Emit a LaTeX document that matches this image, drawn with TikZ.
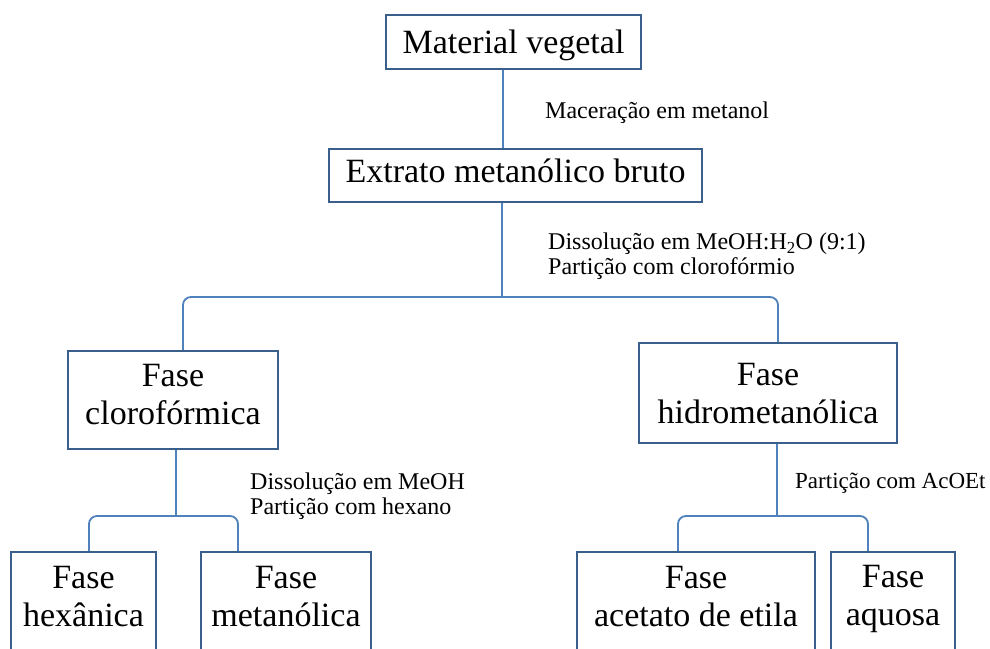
\documentclass[tikz,border=0pt]{standalone}
\usepackage{fontspec}
\setmainfont{Liberation Serif}
\usepackage{xcolor}
\usetikzlibrary{positioning}

\definecolor{bordaazul}{RGB}{58,95,140}
\definecolor{linhaazul}{RGB}{79,129,189}

\begin{document}
\begin{tikzpicture}[x=1pt, y=-1pt,
    caixa/.style={draw=bordaazul, line width=2.2pt, fill=white, inner sep=0pt,
        text height=23pt, text depth=7pt, font=\fontsize{34}{38}\selectfont},
    fase/.style={draw=bordaazul, line width=2.2pt, fill=white, inner sep=0pt,
        align=center, text depth=12pt, font=\fontsize{34}{38}\selectfont},
    liga/.style={draw=linhaazul, line width=1.8pt, rounded corners=8pt},
    etapa/.style={anchor=base west, inner sep=0pt, align=left,
        font=\fontsize{24}{24.5}\selectfont}]

    % 1. Área do desenho
    \clip (0,0) rectangle (990,648);
    \fill[white] (0,0) rectangle (990,648);

    % 2. Caixas
    \node[caixa, minimum width=255pt, minimum height=54pt, text depth=1pt] (mat) at (513.5,42) {Material vegetal};
    \node[caixa, minimum width=373pt, minimum height=53pt, text depth=10pt] (ext) at (515.5,175.5) {Extrato metanólico bruto};
    \node[fase, minimum width=210pt, minimum height=98pt] (clo) at (173,400) {Fase\\clorofórmica};
    \node[fase, minimum width=258pt, minimum height=100pt, text depth=0pt] (hid) at (768,393) {Fase\\hidrometanólica};
    \node[fase, minimum width=145pt, minimum height=100pt] (hex) at (83.5,602) {Fase\\hexânica};
    \node[fase, minimum width=170pt, minimum height=100pt] (met) at (286,602) {Fase\\metanólica};
    \node[fase, minimum width=238pt, minimum height=100pt] (ace) at (696,602) {Fase\\acetato de etila};
    \node[fase, minimum width=124pt, minimum height=100pt, text depth=13pt] (aqu) at (893,602) {Fase\\aquosa};

    % 3. Pontos de ramificação
    \coordinate (chave1) at (502,297);
    \coordinate (chave2) at (176,516);
    \coordinate (chave3) at (777,516);

    % 4. Ligações
    \draw[liga] ([xshift=-10.5]mat.south) -- ([xshift=-10.5]mat.south |- ext.north);
    \draw[liga] ([xshift=-13.5]ext.south) -- (chave1);
    \draw[liga] ([xshift=10]clo.north) |- (chave1) -| ([xshift=10]hid.north);
    \draw[liga] ([xshift=3]clo.south) -- (chave2);
    \draw[liga] ([xshift=5.5]hex.north) |- (chave2) -| ([xshift=-48]met.north);
    \draw[liga] ([xshift=9]hid.south) -- (chave3);
    \draw[liga] ([xshift=-18]ace.north) |- (chave3) -| ([xshift=-25]aqu.north);

    % 5. Etapas
    \node[etapa] (mac) at (545,118) {Maceração em metanol};
    \node[etapa] (dis1) at (548,274) {Dissolução em MeOH:H\textsubscript{2}O (9:1)\\Partição com clorofórmio};
    \node[etapa] (dis2) at (250,514) {Dissolução em MeOH\\Partição com hexano};
    \node[etapa, font=\fontsize{23}{24.5}\selectfont] (par) at (795,488) {Partição com AcOEt};
\end{tikzpicture}
\end{document}
